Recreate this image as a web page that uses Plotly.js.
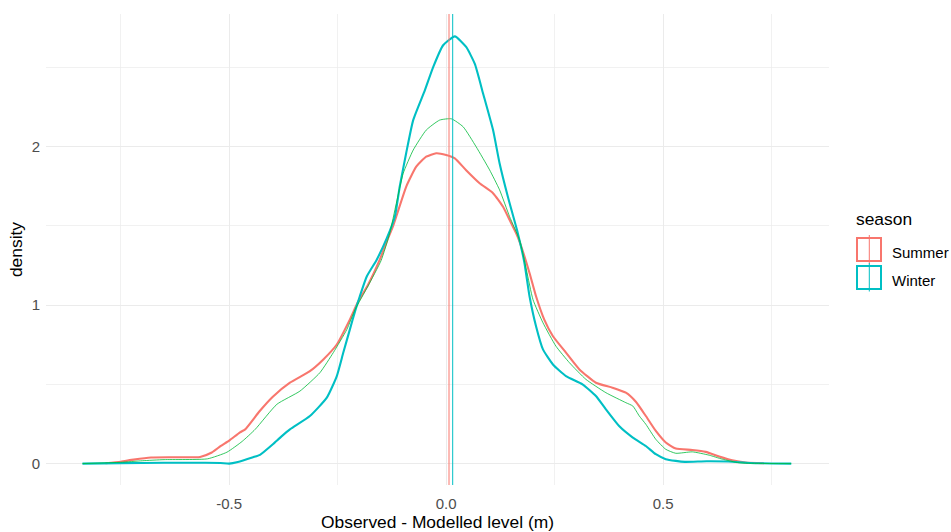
<!DOCTYPE html>
<html>
<head>
<meta charset="utf-8">
<script src="https://cdn.plot.ly/plotly-3.0.1.min.js"></script>
<style>html,body{margin:0;padding:0;background:#fff;}#chart{width:951px;height:532px;}</style>
</head>
<body>
<div id="chart"></div>
<script>
// ---- data ----
const summerX = [-0.785,-0.75,-0.72,-0.68,-0.63,-0.567,-0.54,-0.52,-0.50,-0.475,-0.463,-0.43,-0.40,-0.36,-0.314,-0.283,-0.252,-0.222,-0.203,-0.18,-0.153,-0.134,-0.122,-0.11,-0.092,-0.069,-0.046,-0.023,0,0.02,0.046,0.077,0.108,0.131,0.146,0.161,0.169,0.192,0.207,0.226,0.246,0.276,0.307,0.345,0.383,0.414,0.437,0.46,0.483,0.506,0.529,0.567,0.598,0.629,0.659,0.69,0.732];
const summerY = [0.002,0.012,0.025,0.038,0.040,0.042,0.07,0.11,0.145,0.197,0.216,0.33,0.42,0.51,0.583,0.657,0.751,0.908,1.02,1.128,1.286,1.42,1.50,1.60,1.747,1.872,1.935,1.957,1.946,1.925,1.85,1.768,1.705,1.62,1.537,1.453,1.40,1.202,1.055,0.908,0.803,0.70,0.594,0.51,0.479,0.447,0.39,0.30,0.206,0.133,0.095,0.086,0.074,0.045,0.021,0.007,0.002];

const winterX = [-0.838,-0.75,-0.65,-0.56,-0.52,-0.50,-0.48,-0.445,-0.429,-0.40,-0.38,-0.36,-0.314,-0.275,-0.252,-0.237,-0.222,-0.21,-0.199,-0.183,-0.16,-0.137,-0.118,-0.107,-0.092,-0.076,-0.049,-0.03,-0.007,0.02,0.046,0.066,0.085,0.108,0.123,0.142,0.165,0.18,0.192,0.207,0.223,0.246,0.276,0.314,0.345,0.368,0.399,0.43,0.46,0.483,0.506,0.529,0.55,0.60,0.65,0.70,0.75,0.795];
const winterY = [0.0,0.003,0.005,0.005,0.004,0.0,0.01,0.04,0.055,0.12,0.17,0.216,0.30,0.416,0.552,0.70,0.845,0.96,1.055,1.18,1.286,1.42,1.56,1.747,1.96,2.166,2.355,2.50,2.638,2.694,2.627,2.52,2.334,2.103,1.894,1.684,1.453,1.27,1.055,0.866,0.72,0.625,0.552,0.50,0.426,0.342,0.235,0.164,0.111,0.059,0.028,0.017,0.011,0.015,0.013,0.004,0.001,0.0];

const allX = [-0.838,-0.75,-0.70,-0.65,-0.55,-0.505,-0.47,-0.44,-0.39,-0.337,-0.291,-0.26,-0.229,-0.21,-0.18,-0.15,-0.13,-0.115,-0.099,-0.076,-0.046,-0.015,0.012,0.039,0.069,0.10,0.123,0.146,0.169,0.185,0.20,0.223,0.253,0.284,0.322,0.368,0.414,0.43,0.445,0.46,0.483,0.506,0.529,0.567,0.606,0.636,0.675,0.72,0.795];
const allY = [0.0,0.008,0.018,0.025,0.03,0.072,0.14,0.216,0.374,0.457,0.573,0.70,0.845,0.97,1.12,1.28,1.453,1.64,1.83,1.977,2.103,2.166,2.174,2.124,1.998,1.852,1.726,1.558,1.41,1.22,1.034,0.888,0.74,0.636,0.531,0.447,0.384,0.363,0.30,0.248,0.153,0.09,0.065,0.074,0.053,0.028,0.005,0.001,0.0];

const seasons = ["Summer", "Winter"];
const seasonMeans = [0.0065, 0.015];
const xTickVals = [-0.5, 0, 0.5];
const xTickText = ["-0.5", "0.0", "0.5"];
const xMinorVals = [-0.75, -0.25, 0.25, 0.75];
const yTickVals = [0, 1, 2];
const yTickText = ["0", "1", "2"];
const yMinorVals = [0.5, 1.5, 2.5];

// ---- styling ----
const colSummer = "#F8766D", colWinter = "#00BFC4", colAll = "#00BA38";
const seasonCols = [colSummer, colWinter];
const FONT = "Liberation Sans, Arial, sans-serif";
const W = 951, H = 532, ML = 46, MR = 122, MT = 14, MB = 47;
const PW = W - ML - MR, PH = H - MT - MB;
const px = x => (x - ML) / PW;
const py = y => (H - MB - y) / PH;
const TICK = 15, TITLE = 17.4;

const lineShape = {shape: "spline", smoothing: 0.5};
const traces = [
  {x: summerX, y: summerY, type: "scatter", mode: "lines", name: "Summer",
   line: Object.assign({color: colSummer, width: 2.1}, lineShape), showlegend: false, hoverinfo: "skip"},
  {x: winterX, y: winterY, type: "scatter", mode: "lines", name: "Winter",
   line: Object.assign({color: colWinter, width: 2.1}, lineShape), showlegend: false, hoverinfo: "skip"},
  {x: allX, y: allY, type: "scatter", mode: "lines", name: "All",
   line: Object.assign({color: colAll, width: 0.8}, lineShape), showlegend: false, hoverinfo: "skip"}
];

const shapes = [];
seasonMeans.forEach((m, i) => {
  shapes.push({type: "line", xref: "x", yref: "paper", x0: m, x1: m, y0: 0, y1: 1,
    line: {color: seasonCols[i], width: 1}});
});
// legend keys
const annotations = [
  {xref: "paper", yref: "paper", x: px(854), y: py(219), xanchor: "left", yanchor: "middle",
   text: "season", showarrow: false, font: {family: FONT, size: TITLE, color: "#000"}}
];
seasons.forEach((s, i) => {
  const top = 238 + i * 28, bot = top + 23;
  shapes.push({type: "rect", xref: "paper", yref: "paper", x0: px(857), x1: px(881), y0: py(bot), y1: py(top),
    line: {color: seasonCols[i], width: 2}, fillcolor: "rgba(0,0,0,0)"});
  shapes.push({type: "line", xref: "paper", yref: "paper", x0: px(869.3), x1: px(869.3), y0: py(top + 25.5), y1: py(top - 3),
    line: {color: seasonCols[i], width: 1}});
  annotations.push({xref: "paper", yref: "paper", x: px(890), y: py(252 + i * 28), xanchor: "left", yanchor: "middle",
    text: s, showarrow: false, font: {family: FONT, size: TICK, color: "#000"}});
});

const gridCol = "#EBEBEB";
const layout = {
  width: W, height: H,
  margin: {l: ML, r: MR, t: MT, b: MB, pad: 0},
  paper_bgcolor: "#fff", plot_bgcolor: "#fff",
  font: {family: FONT},
  showlegend: false,
  xaxis: {
    range: [-0.922, 0.882], tickmode: "array", tickvals: xTickVals, ticktext: xTickText,
    showgrid: true, gridcolor: gridCol, gridwidth: 1, zeroline: false, showline: false, ticks: "",
    tickfont: {family: FONT, size: TICK, color: "#4D4D4D"}, ticklabelstandoff: 8, automargin: false,
    minor: {tickmode: "array", tickvals: xMinorVals, showgrid: true, gridcolor: gridCol, gridwidth: 0.7, ticks: ""},
    title: {text: "Observed - Modelled level (m)", font: {family: FONT, size: TITLE, color: "#000"}, standoff: 7}
  },
  yaxis: {
    range: [-0.135, 2.835], tickmode: "array", tickvals: yTickVals, ticktext: yTickText,
    showgrid: true, gridcolor: gridCol, gridwidth: 1, zeroline: false, showline: false, ticks: "",
    tickfont: {family: FONT, size: TICK, color: "#4D4D4D"}, ticklabelstandoff: 5, automargin: false,
    minor: {tickmode: "array", tickvals: yMinorVals, showgrid: true, gridcolor: gridCol, gridwidth: 0.7, ticks: ""},
    title: {text: "density", font: {family: FONT, size: TITLE, color: "#000"}, standoff: 4}
  },
  shapes: shapes,
  annotations: annotations
};

Plotly.newPlot("chart", traces, layout, {displayModeBar: false, staticPlot: true});
</script>
</body>
</html>
